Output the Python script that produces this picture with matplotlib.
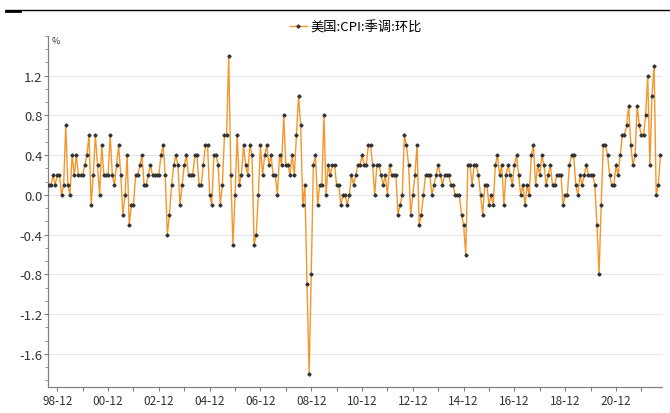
import matplotlib
matplotlib.use("Agg")
import matplotlib.pyplot as plt
from matplotlib.lines import Line2D
from matplotlib.ticker import MultipleLocator
import numpy as np
import pandas as pd

plt.rcParams['font.family'] = ['Noto Sans CJK SC', 'DejaVu Sans']

# US CPI, seasonally adjusted, m/m %, monthly from 1998-08
start_month = '1998-08'
cpi_1998 = [0.1, 0.1, 0.2, 0.1, 0.2]
cpi_1999 = [0.2, 0.0, 0.1, 0.7, 0.1, 0.0, 0.4, 0.2, 0.4, 0.2, 0.2, 0.2]
cpi_2000 = [0.3, 0.4, 0.6, -0.1, 0.2, 0.6, 0.3, 0.0, 0.5, 0.2, 0.2, 0.2]
cpi_2001 = [0.6, 0.2, 0.1, 0.3, 0.5, 0.2, -0.2, 0.0, 0.4, -0.3, -0.1, -0.1]
cpi_2002 = [0.2, 0.2, 0.3, 0.4, 0.1, 0.1, 0.2, 0.3, 0.2, 0.2, 0.2, 0.2]
cpi_2003 = [0.4, 0.5, 0.2, -0.4, -0.2, 0.1, 0.3, 0.4, 0.3, -0.1, 0.1, 0.3]
cpi_2004 = [0.4, 0.2, 0.2, 0.2, 0.4, 0.4, 0.1, 0.1, 0.3, 0.5, 0.5, 0.0]
cpi_2005 = [-0.1, 0.4, 0.4, 0.3, -0.1, 0.1, 0.6, 0.6, 1.4, 0.2, -0.5, 0.0]
cpi_2006 = [0.6, 0.1, 0.2, 0.5, 0.3, 0.2, 0.5, 0.4, -0.5, -0.4, 0.0, 0.5]
cpi_2007 = [0.2, 0.4, 0.5, 0.3, 0.4, 0.2, 0.2, 0.0, 0.4, 0.3, 0.8, 0.3]
cpi_2008 = [0.3, 0.2, 0.4, 0.2, 0.6, 1.0, 0.7, -0.1, 0.1, -0.9, -1.8, -0.8]
cpi_2009 = [0.3, 0.4, -0.1, 0.1, 0.1, 0.8, 0.0, 0.3, 0.2, 0.3, 0.3, 0.1]
cpi_2010 = [0.1, -0.1, 0.0, 0.0, -0.1, 0.0, 0.2, 0.1, 0.2, 0.3, 0.3, 0.4]
cpi_2011 = [0.3, 0.3, 0.5, 0.5, 0.3, 0.0, 0.3, 0.3, 0.2, 0.1, 0.2, 0.0]
cpi_2012 = [0.3, 0.2, 0.2, 0.2, -0.2, -0.1, 0.0, 0.6, 0.5, 0.3, -0.2, 0.0]
cpi_2013 = [0.2, 0.5, -0.3, -0.2, 0.0, 0.2, 0.2, 0.2, 0.0, 0.1, 0.2, 0.3]
cpi_2014 = [0.2, 0.1, 0.2, 0.2, 0.2, 0.1, 0.1, 0.0, 0.0, 0.0, -0.2, -0.3]
cpi_2015 = [-0.6, 0.3, 0.3, 0.1, 0.3, 0.3, 0.2, 0.0, -0.2, 0.1, 0.1, -0.1]
cpi_2016 = [0.0, -0.1, 0.3, 0.4, 0.2, 0.3, -0.1, 0.2, 0.3, 0.2, 0.1, 0.3]
cpi_2017 = [0.4, 0.2, 0.0, 0.1, -0.1, 0.1, 0.0, 0.4, 0.5, 0.1, 0.3, 0.2]
cpi_2018 = [0.4, 0.3, 0.1, 0.2, 0.3, 0.1, 0.1, 0.2, 0.2, 0.2, -0.1, 0.0]
cpi_2019 = [0.0, 0.3, 0.4, 0.4, 0.1, 0.0, 0.2, 0.1, 0.2, 0.3, 0.2, 0.2]
cpi_2020 = [0.2, 0.1, -0.3, -0.8, -0.1, 0.5, 0.5, 0.4, 0.2, 0.1, 0.1, 0.3]
cpi_2021 = [0.2, 0.4, 0.6, 0.6, 0.7, 0.9, 0.5, 0.3, 0.4, 0.9, 0.7, 0.6]
cpi_2022 = [0.6, 0.8, 1.2, 0.3, 1.0, 1.3, 0.0, 0.1, 0.4]

values = (cpi_1998 + cpi_1999 + cpi_2000 + cpi_2001 + cpi_2002 + cpi_2003
          + cpi_2004 + cpi_2005 + cpi_2006 + cpi_2007 + cpi_2008 + cpi_2009
          + cpi_2010 + cpi_2011 + cpi_2012 + cpi_2013 + cpi_2014 + cpi_2015
          + cpi_2016 + cpi_2017 + cpi_2018 + cpi_2019 + cpi_2020 + cpi_2021
          + cpi_2022)
months = pd.period_range(start_month, periods=len(values), freq='M')
series_label = '美国:CPI:季调:环比'

x = np.arange(len(values))

fig = plt.figure(figsize=(6.7, 4.14), dpi=100)
ax = fig.add_axes([48.3 / 670, 26 / 414, (661.7 - 48.3) / 670, 351 / 414])

ax.plot(x, values, color='#F5962A', lw=1.0, marker='D', ms=1.6,
        mfc='#333333', mec='#333333', label=series_label, zorder=3)

ax.set_xlim(-0.25, 289.6)
ax.set_ylim(-1.9333, 1.6)

# y axis
ax.set_yticks([-1.6, -1.2, -0.8, -0.4, 0.0, 0.4, 0.8, 1.2])
ax.set_yticklabels(['-1.6', '-1.2', '-0.8', '-0.4', '0.0', '0.4', '0.8', '1.2'])
ax.yaxis.set_minor_locator(MultipleLocator(0.4 / 3))
ax.grid(axis='y', color='#E6E6E6', lw=0.8)
ax.set_axisbelow(True)

# x axis: tick each December, label every other one
dec_pos = [i for i, m in enumerate(months) if m.month == 12]
dec_lab = [f"{m.year % 100:02d}-12" if m.year % 2 == 0 else ''
           for m in months if m.month == 12]
ax.set_xticks(dec_pos)
ax.set_xticklabels(dec_lab)

for s in ['top', 'right']:
    ax.spines[s].set_visible(False)
for s in ['left', 'bottom']:
    ax.spines[s].set_color('#808080')
    ax.spines[s].set_linewidth(0.9)
ax.tick_params(axis='both', which='both', color='#808080', direction='out')
ax.tick_params(axis='y', which='major', length=3, labelsize=9.5, pad=1,
               labelcolor='#333333')
ax.tick_params(axis='y', which='minor', length=2)
ax.tick_params(axis='x', which='major', length=3, labelsize=8.5, pad=2,
               labelcolor='#333333')

fig.text(52 / 670, 1 - 42 / 414, '%', fontsize=6.5, color='#333333',
         va='center', ha='left')

fig.legend(loc='center', bbox_to_anchor=(356 / 670, 1 - 28 / 414),
           frameon=False, fontsize=9.5, handlelength=1.3, handletextpad=0.3,
           borderpad=0)

# rule at the top of the page
fig.add_artist(Line2D([6 / 670, 1.0], [1 - 11 / 414, 1 - 11 / 414],
                      color='black', lw=1.0))
fig.add_artist(Line2D([6 / 670, 20 / 670], [1 - 11.5 / 414, 1 - 11.5 / 414],
                      color='black', lw=2.0))

fig.savefig('out.png', dpi=100)
